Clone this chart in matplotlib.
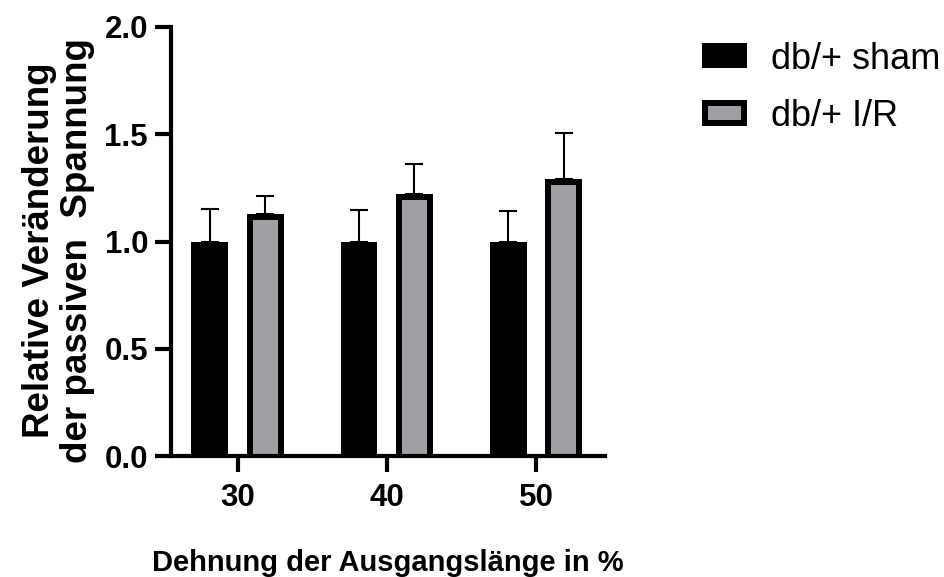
import numpy as np
import matplotlib
matplotlib.use("Agg")
import matplotlib.pyplot as plt
from matplotlib.patches import Patch
from matplotlib.transforms import TransformedPatchPath

plt.rcParams['font.family'] = ['Liberation Sans', 'DejaVu Sans']

# Daten (Mittelwert + SEM, relativ zu sham)
dehnung = ['30', '40', '50']
sham_mean = [1.0, 1.0, 1.0]
sham_sem = [0.15, 0.145, 0.14]
ir_mean = [1.13, 1.22, 1.29]
ir_sem = [0.08, 0.14, 0.215]
serien = ['db/+ sham', 'db/+ I/R']
farben = ['black', '#a0a0a4']

fig = plt.figure(figsize=(9.44, 5.77), dpi=100)
ax = fig.add_axes([171/944, 1-456/577, 434/944, 429/577])

x = np.arange(len(dehnung))
breite = 0.246
versatz = 0.186
kante = 8.6   # nur die innere Haelfte bleibt sichtbar (clip)
unten = -0.03

for i, (mw, sem) in enumerate([(sham_mean, sham_sem), (ir_mean, ir_sem)]):
    pos = x + (2*i - 1)*versatz
    mw = np.array(mw)
    # Fehlerbalken nur nach oben, hinter den Balken
    ax.errorbar(pos, mw, yerr=[np.zeros_like(mw), sem], fmt='none',
                ecolor='black', elinewidth=1.5, capsize=6.8, capthick=1.5,
                zorder=1)
    bars = ax.bar(pos, mw - unten, bottom=unten, width=breite,
                  color=farben[i], edgecolor='black', linewidth=kante,
                  zorder=2)
    for r in bars:
        r.set_clip_path(TransformedPatchPath(r))

ax.set_xlim(-0.446, 2.463)
ax.set_ylim(0, 2.0)
ax.set_yticks([0, 0.5, 1.0, 1.5, 2.0])
ax.set_yticklabels(['0.0', '0.5', '1.0', '1.5', '2.0'])
ax.set_xticks(x)
ax.set_xticklabels(dehnung)

for s in ['top', 'right']:
    ax.spines[s].set_visible(False)
for s in ['left', 'bottom']:
    ax.spines[s].set_linewidth(3)
    ax.spines[s].set_zorder(3)

ax.tick_params(axis='both', length=11.5, width=3, labelsize=22.5)
ax.tick_params(axis='y', pad=5)
ax.tick_params(axis='x', pad=8)
for t in ax.get_xticklabels() + ax.get_yticklabels():
    t.set_fontweight('bold')

ax.set_xlabel('Dehnung der Ausgangslänge in %', fontsize=21,
              fontweight='bold', labelpad=26)
ax.set_ylabel('Relative Veränderung\nder passiven  Spannung', fontsize=26.5,
              fontweight='bold', linespacing=1.12)
ax.yaxis.set_label_coords(-0.174, 0.48)

griffe = [Patch(facecolor=f, edgecolor='black', linewidth=4.3) for f in farben]
fig.legend(griffe, serien, loc='upper left', bbox_to_anchor=(0.747, 0.928),
           frameon=False, fontsize=26, handlelength=1.08, handleheight=0.44,
           handletextpad=0.75, labelspacing=0.62, borderpad=0, borderaxespad=0)

fig.savefig('out.png', dpi=100)
